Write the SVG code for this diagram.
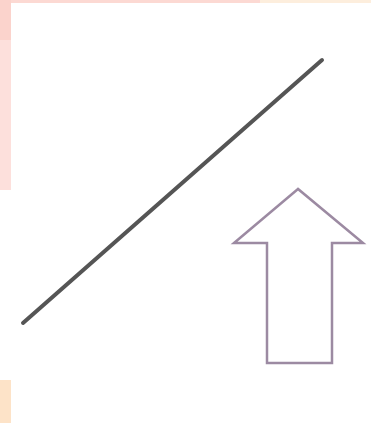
<svg xmlns="http://www.w3.org/2000/svg" width="371" height="423" viewBox="0 0 371 423">
<style>
.line{stroke:#555;stroke-width:4;stroke-linecap:round;fill:none}
.arrow{stroke:#9c8aa2;stroke-width:2.5;fill:#fff;stroke-linejoin:miter}
</style>
<rect width="371" height="423" fill="#fff"/>
<g id="background">
<rect x="0" y="0" width="260" height="3" fill="#fcd9d3"/>
<rect x="260" y="0" width="111" height="3" fill="#fdeedd"/>
<rect x="0" y="0" width="11" height="40" fill="#fbd3cc"/>
<rect x="0" y="40" width="11" height="150" fill="#fde0dc"/>
<rect x="0" y="380" width="11" height="43" fill="#fde3c8"/>
</g>
<g id="line1">
<line class="line" x1="23" y1="323" x2="322" y2="60"/>
</g>
<g id="arrow1">
<polygon class="arrow" points="298,189 234,243 267,243 267,363 332,363 332,243 363,243"/>
</g>
</svg>
